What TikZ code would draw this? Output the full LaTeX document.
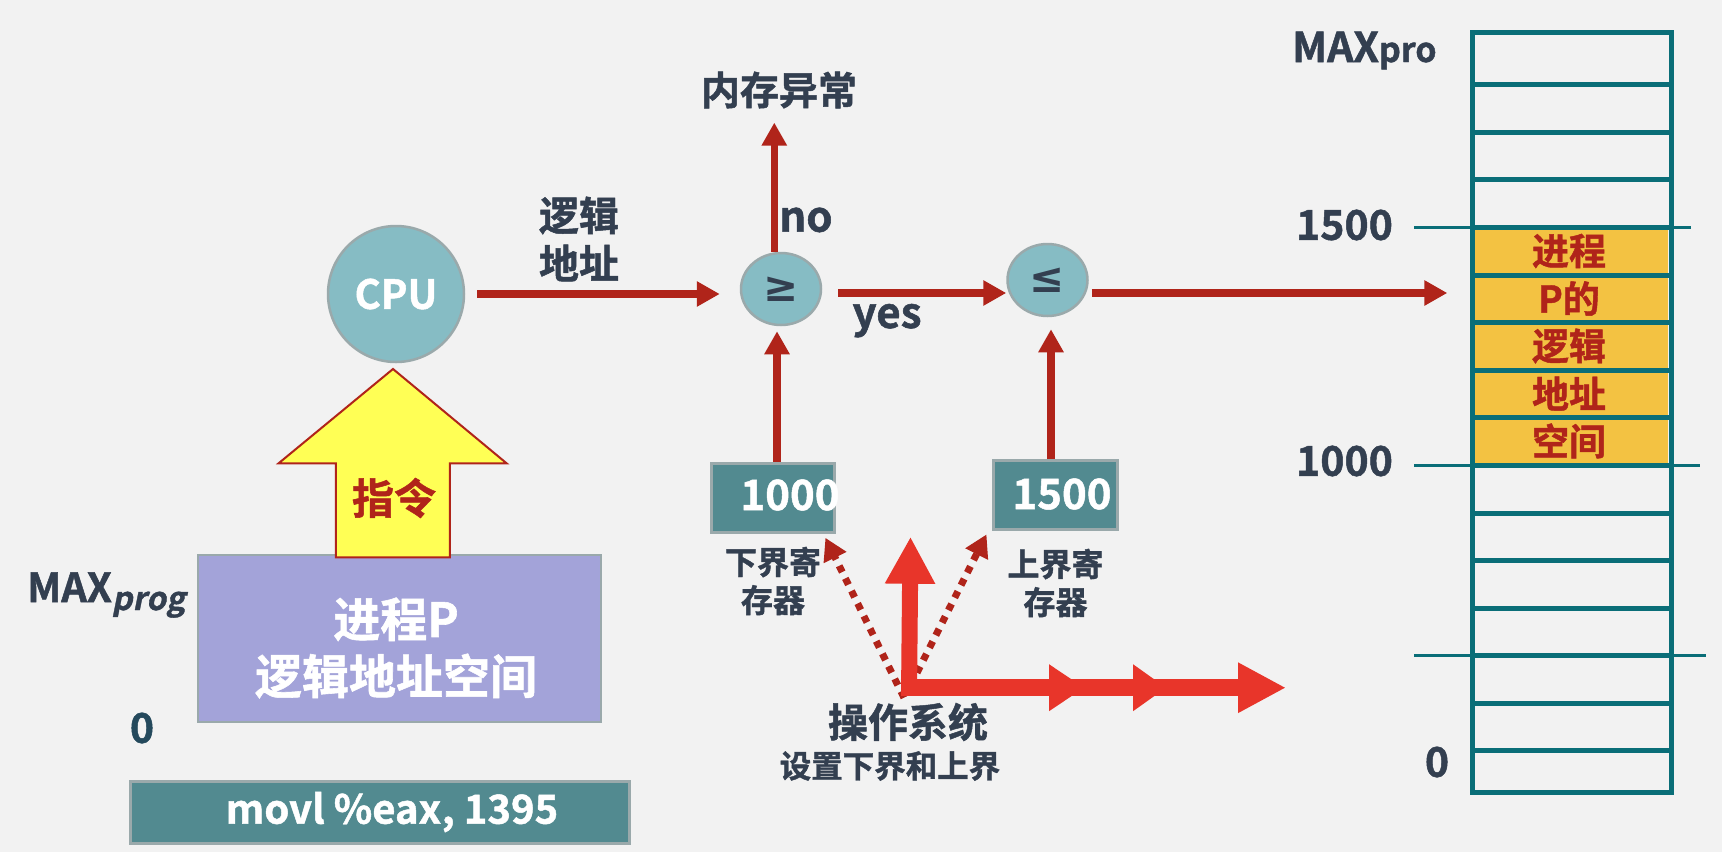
\documentclass[tikz,border=0pt]{standalone}
\usepackage{fontspec}
\setmainfont{Noto Sans CJK SC Bold}[FakeBold=1.2]
\newfontfamily\slantb{Noto Sans CJK SC Bold}[FakeSlant=0.2,FakeBold=1.2]
\newfontfamily\djv{DejaVu Sans}
\usetikzlibrary{arrows.meta,calc,shapes.geometric}
\definecolor{bg}{HTML}{F2F2F2}
\definecolor{ink}{HTML}{333F50}
\definecolor{darkred}{HTML}{B0241A}
\definecolor{brightred}{HTML}{E8352A}
\definecolor{tealbox}{HTML}{528A90}
\definecolor{circ}{HTML}{86BCC4}
\definecolor{grayedge}{HTML}{9AA9AB}
\definecolor{memline}{HTML}{0A6E78}
\definecolor{cellyellow}{HTML}{F3C242}
\definecolor{purplebox}{HTML}{A3A3D9}
\definecolor{arrowyellow}{HTML}{FFFF55}
\definecolor{leftzero}{HTML}{24495C}
\newcommand{\fsz}[1]{\fontsize{#1}{#1}\selectfont}
\tikzset{
  lbl/.style={text=ink, inner sep=0pt},
  tbox/.style={fill=tealbox, draw=grayedge, line width=3pt, inner sep=0pt},
  cell/.style={minimum width=199pt, minimum height=47pt, inner sep=0pt, text=darkred, font=\fsz{37}},
  redarrow/.style={draw=darkred, line width=7.5pt, -{Triangle[length=23pt,width=24pt]}},
  dotarrow/.style={draw=darkred, line width=7pt, dash pattern=on 7pt off 7pt, -{Triangle[length=22pt,width=24pt]}},
  bigred/.style={draw=brightred, line width=17pt},
  cmp/.style={ellipse, fill=circ, draw=grayedge, line width=2.5pt, minimum width=80pt, minimum height=72pt, inner sep=0pt, text=ink, font=\djv\bfseries\fsz{42}}
}
\begin{document}
\begin{tikzpicture}[x=1pt,y=-1pt]
\fill[bg] (0,0) rectangle (1722,852);
\useasboundingbox (0,0) rectangle (1722,852);

% ---------- memory column ----------
\fill[cellyellow] (1475,227) rectangle (1668,465);
\foreach \yy in {84,132,179,227,275,322,370,417,465,513,560,608,655,703,750}
  \draw[memline, line width=5pt] (1472,\yy) -- (1671,\yy);
\draw[memline, line width=5pt] (1472,32) rectangle (1671,792);
\foreach \yy/\xe in {227/1691,465/1700,655/1706}
  \draw[memline, line width=3pt] (1414,\yy) -- (\xe,\yy);
\node[cell] (c5) at (1569,251) {进程};
\node[cell] (c6) at (1569,298.5) {P的};
\node[cell] (c7) at (1569,346) {逻辑};
\node[cell] (c8) at (1569,393.5) {地址};
\node[cell] (c9) at (1569,441) {空间};

\node[lbl, font=\fsz{41}, anchor=base west] (maxpro) at (1292,62) {MAX{\fsz{34}pro}};
\node[lbl, font=\fsz{41}] (l1500) at (1344.5,225) {1500};
\node[lbl, font=\fsz{41}] (l1000) at (1344.5,461) {1000};
\node[lbl, font=\fsz{41}] (l0) at (1437,762) {0};

% ---------- comparison flow ----------
\node[circle, fill=circ, draw=grayedge, line width=2.5pt, minimum size=136pt, inner sep=0pt, text=white, font=\fsz{40}] (cpu) at (396,294) {CPU};
\node[cmp] (ge) at (781,289) {≥};
\node[cmp] (le) at (1047.5,280) {≤};

\node[lbl, font=\fontsize{40}{48}\selectfont, align=center] (la) at (579,239) {逻辑\\地址};
\node[lbl, font=\fsz{39}] (exc) at (779,90) {内存异常};
\node[lbl, font=\fsz{42}, anchor=base] (no) at (806,231.7) {no};
\node[lbl, font=\fsz{42}, anchor=base] (yes) at (887,328) {yes};

\node[tbox, minimum width=123pt, minimum height=69pt] (lo) at (773.4,497.8) {};
\node[text=white, inner sep=0pt, font=\fsz{42}] (lotxt) at (790,495) {1000};
\node[tbox, minimum width=124pt, minimum height=69pt] (hi) at (1055.5,495) {};
\node[text=white, inner sep=0pt, font=\fsz{42}] (hitxt) at (1062,494) {1500};

\node[lbl, font=\fontsize{32}{38}\selectfont, align=center] (loname) at (773,581) {下界寄\\存器};
\node[lbl, font=\fontsize{32}{38}\selectfont, align=center] (hiname) at (1055.5,583) {上界寄\\存器};
\node[lbl, font=\fsz{40}] (os) at (908,722) {操作系统};
\node[lbl, font=\fsz{31.5}] (ossub) at (890,766) {设置下界和上界};

\draw[redarrow] ($(cpu.east)+(12,0)$) -- ($(cpu.east -| ge.west)+(-20,0)$);
\draw[redarrow] ($(ge.east)+(16,4)$) -- ($(le.west)+(0,13)$);
\draw[redarrow] ($(le.east)+(3,13)$) -- ($(c6.west)+(-22,-5.5)$);
\draw[redarrow] ($(ge.north)+(-6.7,0)$) -- ($(exc.south)+(-4.7,14)$);
\draw[redarrow] ($(lo.north)+(3.6,0)$) -- ($(ge.south)+(-4,5)$);
\draw[redarrow] ($(hi.north)+(-4.5,0)$) -- ($(le.south)+(3.5,12)$);

% OS arrows
\draw[dotarrow] ($(os.north)+(-4,-5)$) -- ($(lo.south east)+(-11,4)$);
\draw[dotarrow] ($(os.north)+(9,-30)$) -- ($(hi.south west)+(-5.5,3.4)$);
\coordinate (osc) at ($(os.north)+(1,-15)$);
\draw[draw=brightred, line width=16pt, -{Triangle[length=47pt,width=47pt]}] ($(osc)+(0,8)$) -- ($(osc)+(1.5,-151)$);
\draw[bigred, -{Triangle[length=48pt,width=47pt]}] ($(osc)+(-8.5,0)$) -- ($(osc)+(377,0)$);
\fill[brightred] ($(osc)+(140,-23.5)$) -- ($(osc)+(175,0)$) -- ($(osc)+(140,23.5)$) -- cycle;
\fill[brightred] ($(osc)+(224,-23.5)$) -- ($(osc)+(257,0)$) -- ($(osc)+(224,23.5)$) -- cycle;

% ---------- left: process ----------
\node[fill=purplebox, draw=grayedge, line width=2.5pt, minimum width=403pt, minimum height=167pt, inner sep=0pt] (proc) at (399.5,638.5) {};
\node[text=white, font=\fontsize{47}{57}\selectfont, align=center, inner sep=0pt] (proctxt) at (396,648) {进程P\\逻辑地址空间};
\draw[fill=arrowyellow, draw=darkred, line width=2pt] (393,369) -- (506.6,463.3) -- (449.8,463.3) -- (449.8,557.4) -- (335.8,557.4) -- (335.8,463.3) -- (278.6,463.3) -- cycle;
\node[text=darkred, font=\fsz{42}, inner sep=0pt] (instr) at (394,498) {指令};
\node[lbl, font=\fsz{40}, anchor=base west] (maxprog) at (27,602) {MAX\raisebox{-8pt}{\slantb\fsz{32}prog}};
\node[text=leftzero, font=\fsz{41}, inner sep=0pt] (z0) at (142,728) {0};
\node[tbox, minimum width=499pt, minimum height=61.5pt] (movl) at (379.5,812.7) {};
\node[text=white, font=\fsz{40}, inner sep=0pt] (movltxt) at (392,812) {movl \%eax, 1395};
\end{tikzpicture}
\end{document}
